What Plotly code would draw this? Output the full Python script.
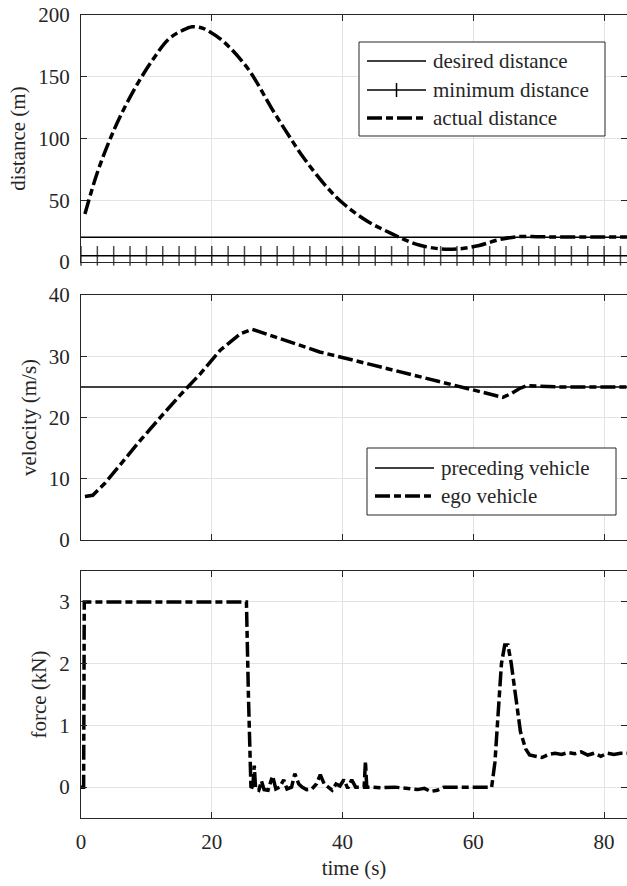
import plotly.graph_objects as go

# ---------------- data ----------------
t_dist = [0.6, 2.4, 4.3, 6.1, 8.5, 11.0, 13.4, 15.5, 17.0, 18.5, 19.5, 21.9, 25.6, 29.2, 31.7,
          34.1, 37.7, 40.2, 43.8, 47.5, 51.1, 54.8, 57.8, 60.9, 63.9, 67.0, 70.0, 73.0, 78.0, 83.5]
actual_distance = [38.8, 70.9, 97.6, 119, 143, 164, 180.5, 187.5, 190.5, 189.5, 187, 178, 156, 124, 103,
                   84, 60, 47, 33, 23, 14.7, 10.7, 10.7, 13.4, 18, 20.6, 20.4, 20.3, 20.2, 20.2]
t_des = [0, 83.5]
desired_distance = [20, 20]
t_min = [0, 2.5, 5, 7.5, 10, 12.5, 15, 17.5, 20, 22.5, 25, 27.5, 30, 32.5, 35, 37.5, 40, 42.5,
         45, 47.5, 50, 52.5, 55, 57.5, 60, 62.5, 65, 67.5, 70, 72.5, 75, 77.5, 80, 82.5, 83.5]
minimum_distance = [5] * len(t_min)

t_vel = [0.6, 1.8, 3.65, 6.1, 9.1, 12.2, 15.2, 18.3, 21.3, 24.4, 26.2, 30.4, 36.5, 42.6,
         48.7, 54.8, 60.9, 63.5, 64.5, 65.8, 67.0, 68.2, 73.0, 78.0, 83.5]
ego_velocity = [7.1, 7.3, 9.25, 12.5, 16.3, 20.1, 23.7, 27.2, 31.0, 33.7, 34.4, 32.9, 30.7, 29.1,
                27.5, 25.9, 24.2, 23.5, 23.3, 23.9, 24.7, 25.2, 25.0, 25.0, 25.0]
t_pre = [0, 83.5]
preceding_velocity = [25, 25]

t_force = [0, 0.4, 0.5, 25.3, 25.6, 26.0, 26.3, 26.5, 26.7, 27.2, 27.6, 28.0, 28.6, 29.3, 29.8,
           30.4, 31.0, 31.5, 32.2, 32.7, 33.3, 33.8, 34.5, 35.3, 36.0, 36.6, 37.2, 37.8, 38.4,
           39.0, 39.6, 40.2, 40.8, 41.4, 42.0, 42.6, 43.3, 43.5, 43.7, 44.5, 46.0, 48.0, 50.0,
           51.5, 52.5, 53.5, 54.5, 55.5, 58.0, 62.8, 63.3, 63.8, 64.3, 64.8, 65.3, 65.8, 66.5,
           67.2, 68.0, 68.6, 69.5, 70.5, 71.5, 72.5, 73.5, 74.5, 75.5, 76.5, 77.5, 78.5, 79.5,
           80.5, 81.5, 82.5, 83.5]
force = [0, 0, 3.0, 3.0, 1.5, -0.05, 0.05, 0.35, -0.02, -0.05, 0.10, -0.04, -0.05, 0.18, -0.03,
         0.0, 0.12, -0.03, 0.0, 0.22, 0.05, 0.0, -0.04, -0.03, 0.05, 0.20, 0.05, 0.0, -0.05,
         0.05, 0.02, 0.12, -0.02, 0.12, 0.0, 0.0, 0.0, 0.42, 0.0, 0.0, -0.01, 0.0, -0.02,
         -0.04, -0.02, -0.07, -0.05, 0.0, 0.0, 0.0, 0.4, 1.3, 2.0, 2.3, 2.3, 2.0, 1.4,
         0.9, 0.62, 0.52, 0.50, 0.48, 0.53, 0.55, 0.53, 0.56, 0.54, 0.57, 0.52, 0.55, 0.50,
         0.55, 0.53, 0.55, 0.55]

x_ticks = [0, 20, 40, 60, 80]
legend1_labels = ["desired distance", "minimum distance", "actual distance"]
legend2_labels = ["preceding vehicle", "ego vehicle"]

# ---------------- figure ----------------
FONT = "Liberation Serif"
FS = 21
dashdot = "15px,4px,7px,4px"
INK = "#262626"

H, W, L = 886, 627, 81
top, bot = 15, 68
ph = H - top - bot
pw = W - L


def px(x):
    return (x - L) / pw


def py(y):
    return (H - bot - y) / ph


def dom(a, b):
    return [py(b), py(a)]


fig = go.Figure()

fig.add_trace(go.Scatter(x=t_des, y=desired_distance, mode="lines", name=legend1_labels[0],
                         line=dict(color="black", width=1.5), xaxis="x", yaxis="y"))
msize = [14] * (len(t_min) - 1) + [0]
fig.add_trace(go.Scatter(x=t_min, y=minimum_distance, mode="lines+markers", name=legend1_labels[1],
                         line=dict(color="black", width=1.5),
                         marker=dict(symbol="line-ns", size=msize, color="black",
                                     line=dict(color="black", width=1.5)),
                         cliponaxis=False, xaxis="x", yaxis="y"))
fig.add_trace(go.Scatter(x=t_dist, y=actual_distance, mode="lines", name=legend1_labels[2],
                         line=dict(color="black", width=3.5, dash=dashdot, shape="spline"),
                         xaxis="x", yaxis="y"))
fig.add_trace(go.Scatter(x=t_pre, y=preceding_velocity, mode="lines", name=legend2_labels[0],
                         line=dict(color="black", width=1.5), xaxis="x2", yaxis="y2"))
fig.add_trace(go.Scatter(x=t_vel, y=ego_velocity, mode="lines", name=legend2_labels[1],
                         line=dict(color="black", width=3.5, dash=dashdot),
                         xaxis="x2", yaxis="y2"))
fig.add_trace(go.Scatter(x=t_force, y=force, mode="lines", name="force",
                         line=dict(color="black", width=3.5, dash=dashdot),
                         xaxis="x3", yaxis="y3"))

# ---- legends drawn as boxes with line samples and real text ----
shapes = []
annotations = []


def legend_box(x0, y0, x1, y1):
    shapes.append(dict(type="rect", xref="paper", yref="paper", x0=px(x0), x1=px(x1),
                       y0=py(y1), y1=py(y0), line=dict(color=INK, width=1), fillcolor="white",
                       layer="above"))


def legend_entry(label, yc, xs0, xs1, xt, style):
    if style == "dash":
        ln = dict(color="black", width=3.5, dash=dashdot)
    else:
        ln = dict(color="black", width=1.5)
    shapes.append(dict(type="line", xref="paper", yref="paper", x0=px(xs0), x1=px(xs1),
                       y0=py(yc), y1=py(yc), line=ln, layer="above"))
    if style == "marker":
        xm = (xs0 + xs1) / 2
        shapes.append(dict(type="line", xref="paper", yref="paper", x0=px(xm), x1=px(xm),
                           y0=py(yc - 7), y1=py(yc + 7), line=dict(color="black", width=1.5),
                           layer="above"))
    annotations.append(dict(xref="paper", yref="paper", x=px(xt), y=py(yc), text=label,
                            showarrow=False, xanchor="left", yanchor="middle",
                            font=dict(family=FONT, size=FS, color=INK)))


legend_box(359, 42, 605, 136)
legend_entry(legend1_labels[0], 61, 367, 426, 431, "solid")
legend_entry(legend1_labels[1], 90, 367, 426, 431, "marker")
legend_entry(legend1_labels[2], 118, 367, 426, 431, "dash")

legend_box(367, 448, 616, 515)
legend_entry(legend2_labels[0], 468, 375, 434, 439, "solid")
legend_entry(legend2_labels[1], 496, 375, 434, 439, "dash")

tickfont = dict(family=FONT, size=FS, color=INK)
titlefont = dict(family=FONT, size=FS, color=INK)
axcommon = dict(showline=True, linecolor=INK, linewidth=1, mirror="allticks",
                ticks="inside", ticklen=6, tickcolor=INK, showgrid=True,
                gridcolor="#e3e3e3", gridwidth=1, zeroline=False, automargin=False,
                tickfont=tickfont)
xcommon = dict(axcommon, range=[0, 83.5], tickvals=x_ticks)
ycommon = dict(axcommon, ticklabelstandoff=6)

fig.update_layout(
    width=W, height=H,
    margin=dict(l=L, r=0, t=top, b=bot),
    paper_bgcolor="white", plot_bgcolor="white",
    font=dict(family=FONT, size=FS, color=INK),
    showlegend=False,
    xaxis=dict(xcommon, anchor="y", showticklabels=False),
    xaxis2=dict(xcommon, anchor="y2", showticklabels=False, matches="x"),
    xaxis3=dict(xcommon, anchor="y3", matches="x", ticklabelstandoff=5,
                title=dict(text="time (s)", font=titlefont, standoff=7)),
    yaxis=dict(ycommon, domain=dom(15, 262), range=[0, 200], tickvals=[0, 50, 100, 150, 200],
               title=dict(text="distance (m)", font=titlefont, standoff=6)),
    yaxis2=dict(ycommon, domain=dom(295, 540), range=[0, 40], tickvals=[0, 10, 20, 30, 40],
                title=dict(text="velocity (m/s)", font=titlefont, standoff=6)),
    yaxis3=dict(ycommon, domain=dom(571, 818), range=[-0.5, 3.5], tickvals=[0, 1, 2, 3],
                title=dict(text="force (kN)", font=titlefont, standoff=6)),
    shapes=shapes,
    annotations=annotations,
)

fig.write_html("out.html", config={"displayModeBar": False},
               post_script="document.body.style.margin='0';")
